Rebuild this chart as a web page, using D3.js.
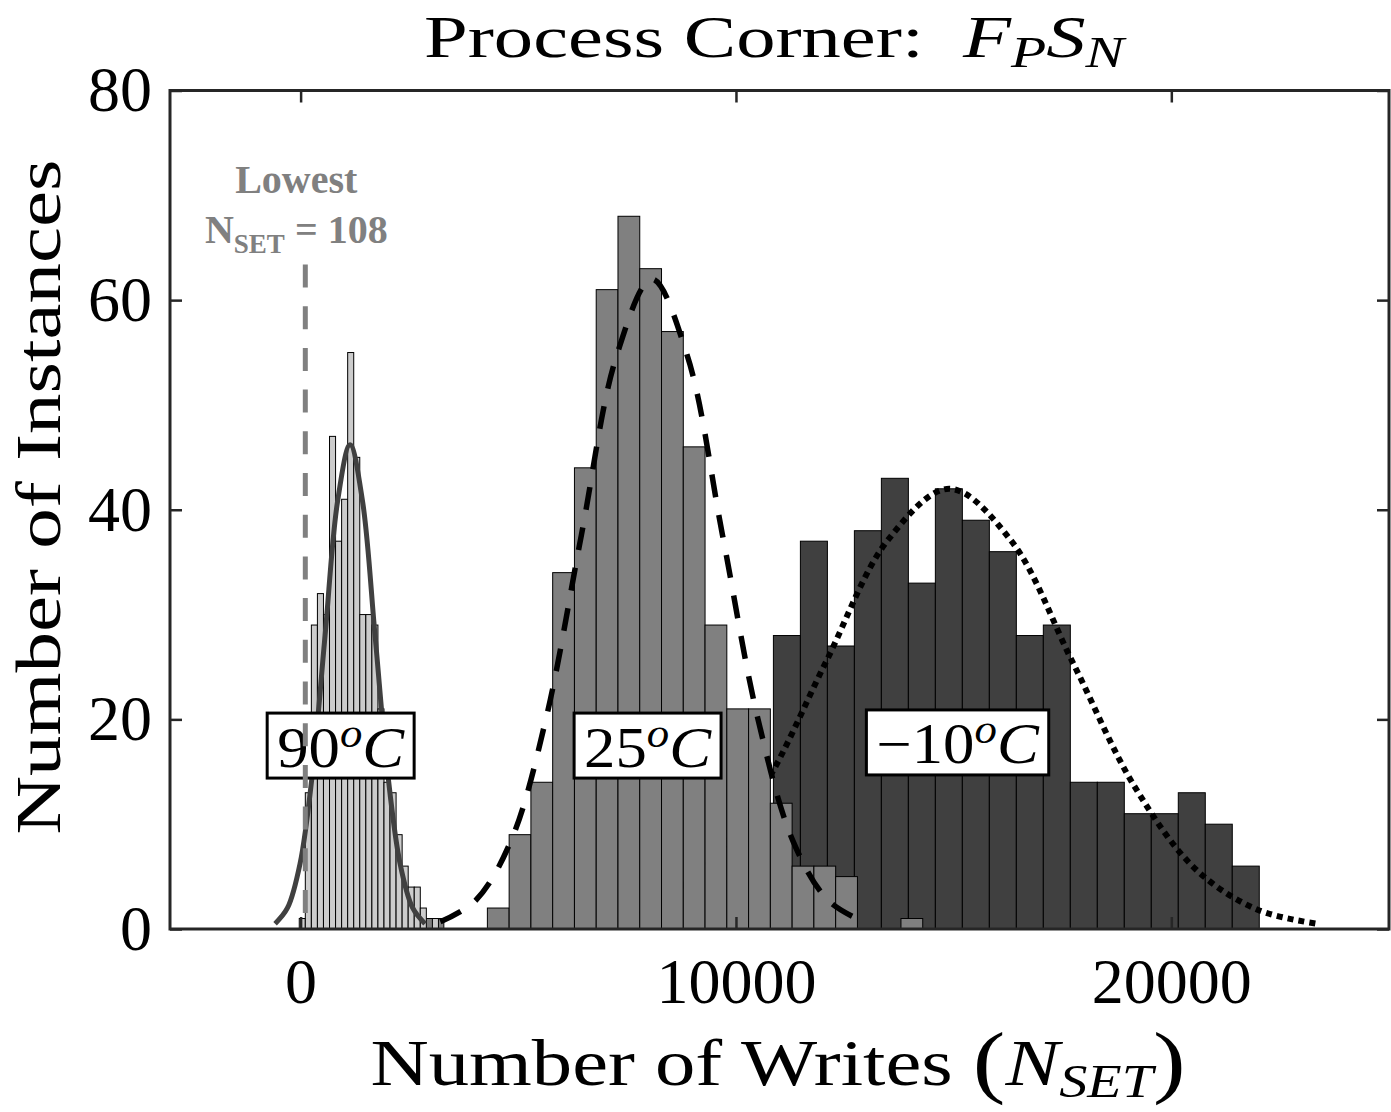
<!DOCTYPE html>
<html><head><meta charset="utf-8">
<script src="https://cdn.jsdelivr.net/npm/d3@7"></script>
<style>
body{margin:0;background:#fff}
svg{display:block}
text{font-family:"Liberation Serif","Times New Roman",serif;fill:#000}
</style>
</head><body>
<svg id="chart" width="1391" height="1112"></svg>
<script>
// ---------------- data ----------------
const tempLabels = ["90", "25", "\u221210"];
const labelAnchorX = [920, 7970, 15090];
const labelAnchorY = [17.5, 17.5, 17.8];

// 90 C histogram (bin start, width, counts)
const hist90Start = -31, hist90Width = 139;
const counts90 = [1,13,29,32,30,47,37,41,55,45,30,30,29,21,14,13,9,6,4,4,2,0,1,0];
// 25 C histogram
const hist25Start = 2790, hist25Width = 500;
const counts25 = [1,0,0,2,9,14,34,44,61,68,63,57,46,29,21,21,12,6,6,5,0,0,1];
// -10 C histogram (visible bins)
const histM10Start = 10860, histM10Width = 620;
const countsM10 = [28,37,27,38,43,33,42,39,36,28,29,14,14,11,11,13,10,6];

// fitted normal curves
const fit90X = [-586,-299,-12,275,562,849,1136,1423,1710,1997,2284,2571,2858];
const fit90Y = [0.51,2.03,6.25,15.0,28.0,40.8,46.2,40.8,28.0,15.0,6.25,2.03,0.51];
const fit25X = [3210,4020,4830,5640,6450,7260,8070,8880,9690,10500,11310,12120,12930];
const fit25Y = [0.69,2.72,8.39,20.13,37.6,54.72,62.0,54.72,37.6,20.13,8.39,2.72,0.69];
const fitM10X = [6400,7816,9233,10650,12066,13483,14899,16316,17732,19149,20565,21982,23398];
const fitM10Y = [0.47,1.84,5.68,13.64,25.47,37.07,42.0,37.07,25.47,13.64,5.68,1.84,0.47];

const xTicks = [0, 10000, 20000];
const yTicks = [0, 20, 40, 60, 80];
const lowestNSET = 108;
const lowestLineTop = 63.4;

// ---------------- layout ----------------
const svg = d3.select("#chart");
const L = 170, R = 1389, T = 90.5, B = 929;
const x = d3.scaleLinear().domain([-3000, 25000]).range([L, R]);
const y = d3.scaleLinear().domain([0, 80]).range([B, T]);
const axisColor = "#262626";

const plot = svg.append("g");

function drawHist(start, width, counts, fill) {
  const g = plot.append("g");
  counts.forEach((c, i) => {
    if (c <= 0) return;
    const x0 = x(start + i * width), x1 = x(start + (i + 1) * width);
    g.append("rect")
      .attr("x", x0).attr("width", x1 - x0)
      .attr("y", y(c)).attr("height", y(0) - y(c))
      .attr("fill", fill).attr("stroke", "#000").attr("stroke-width", 1);
  });
}
function drawFit(xs, ys, color, dash, w) {
  const line = d3.line().x(d => x(d[0])).y(d => y(d[1])).curve(d3.curveCatmullRom.alpha(0.5));
  const p = plot.append("path")
    .attr("d", line(xs.map((v, i) => [v, ys[i]])))
    .attr("fill", "none").attr("stroke", color).attr("stroke-width", w);
  if (dash) p.attr("stroke-dasharray", dash);
}

drawHist(histM10Start, histM10Width, countsM10, "#404040");
drawFit(fitM10X, fitM10Y, "#000", "6,5", 6);
drawHist(hist25Start, hist25Width, counts25, "#808080");
drawFit(fit25X, fit25Y, "#000", "23,18", 5.5);
drawHist(hist90Start, hist90Width, counts90, "#cccccc");
drawFit(fit90X, fit90Y, "#404040", null, 5);

// temperature labels
tempLabels.forEach((t, i) => {
  const g = plot.append("g");
  const cx = x(labelAnchorX[i]), cy = y(labelAnchorY[i]);
  const rect = g.append("rect");
  const txt = g.append("text").attr("x", cx).attr("y", cy + 21)
    .attr("text-anchor", "middle").attr("font-size", 56);
  txt.append("tspan").text(t);
  txt.append("tspan").attr("font-style", "italic").attr("font-size", 40).attr("dy", -20).text("o");
  txt.append("tspan").attr("font-style", "italic").attr("dy", 20).text("C");
  const w0 = txt.node().getComputedTextLength();
  const w = w0 * 1.12;
  txt.attr("textLength", w).attr("lengthAdjust", "spacingAndGlyphs");
  rect.attr("x", cx - w / 2 - 10).attr("y", cy - 32.5).attr("width", w + 20).attr("height", 65)
    .attr("fill", "#fff").attr("stroke", "#000").attr("stroke-width", 3);
});

// lowest N_SET marker
plot.append("line")
  .attr("x1", x(lowestNSET)).attr("x2", x(lowestNSET))
  .attr("y1", y(lowestLineTop)).attr("y2", y(0))
  .attr("stroke", "#808080").attr("stroke-width", 5).attr("stroke-dasharray", "23,18.7");
const ax = x(lowestNSET) - 9;
svg.append("text").attr("x", ax).attr("y", 193).attr("text-anchor", "middle")
  .attr("font-size", 40).attr("font-weight", "bold").style("fill", "#808080").text("Lowest");
const t2 = svg.append("text").attr("x", ax).attr("y", 243).attr("text-anchor", "middle")
  .attr("font-size", 40).attr("font-weight", "bold").style("fill", "#808080");
t2.append("tspan").text("N");
t2.append("tspan").attr("font-size", 27).attr("dy", 10).text("SET");
t2.append("tspan").attr("dy", -10).text(" = 108");

// axes
const fmt = d3.format("d");
const gx = svg.append("g").attr("transform", `translate(0,${B})`)
  .call(d3.axisBottom(x).tickValues(xTicks).tickSize(-12).tickPadding(29).tickFormat(fmt));
const gxt = svg.append("g").attr("transform", `translate(0,${T})`)
  .call(d3.axisTop(x).tickValues(xTicks).tickSize(-12).tickFormat(""));
const gy = svg.append("g").attr("transform", `translate(${L},0)`)
  .call(d3.axisLeft(y).tickValues(yTicks).tickSize(-12).tickPadding(18).tickFormat(fmt));
const gyr = svg.append("g").attr("transform", `translate(${R},0)`)
  .call(d3.axisRight(y).tickValues(yTicks).tickSize(-12).tickFormat(""));
[gx, gxt, gy, gyr].forEach(g => {
  g.select(".domain").remove();
  g.selectAll(".tick line").attr("stroke", axisColor).attr("stroke-width", 2.5);
  g.selectAll(".tick text").attr("font-size", 64).attr("font-family", "Liberation Serif, serif").attr("fill", axisColor);
});
svg.append("rect").attr("x", L).attr("y", T).attr("width", R - L).attr("height", B - T)
  .attr("fill", "none").attr("stroke", axisColor).attr("stroke-width", 3);

// title
const title = svg.append("text").attr("x", 774).attr("y", 57).attr("text-anchor", "middle")
  .attr("font-size", 60).attr("textLength", 700).attr("lengthAdjust", "spacingAndGlyphs");
title.append("tspan").text("Process Corner:\u00a0 ");
title.append("tspan").attr("font-style", "italic").text("F");
title.append("tspan").attr("font-style", "italic").attr("font-size", 44).attr("dy", 10).text("P");
title.append("tspan").attr("font-style", "italic").attr("dy", -10).text("S");
title.append("tspan").attr("font-style", "italic").attr("font-size", 44).attr("dy", 10).text("N");

// x label
const xl = svg.append("text").attr("x", 778).attr("y", 1085).attr("text-anchor", "middle")
  .attr("font-size", 66).attr("textLength", 815).attr("lengthAdjust", "spacingAndGlyphs");
xl.append("tspan").text("Number of Writes ");
xl.append("tspan").attr("font-size", 80).attr("dy", 3).text("(");
xl.append("tspan").attr("font-style", "italic").attr("dy", -3).text("N");
xl.append("tspan").attr("font-style", "italic").attr("font-size", 46).attr("dy", 12).text("SET");
xl.append("tspan").attr("font-size", 80).attr("dy", -9).text(")");

// y label
svg.append("text").attr("transform", "translate(60,497) rotate(-90)")
  .attr("text-anchor", "middle").attr("font-size", 64)
  .attr("textLength", 675).attr("lengthAdjust", "spacingAndGlyphs")
  .text("Number of Instances");
</script>
</body></html>
